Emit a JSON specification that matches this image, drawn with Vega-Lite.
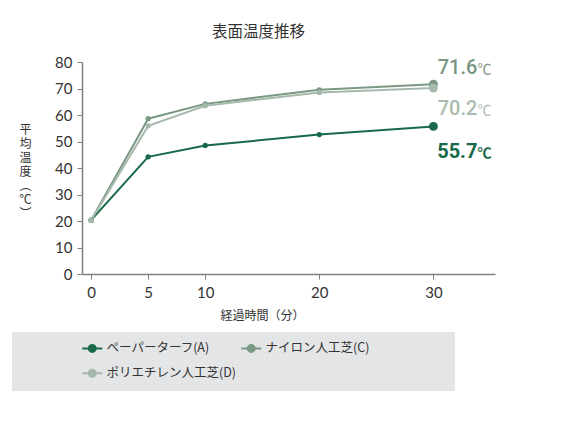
{
  "$schema": "https://vega.github.io/schema/vega-lite/v6.json",
  "width": 413,
  "height": 212,
  "autosize": {"type": "none"},
  "padding": {"left": 82, "top": 62, "right": 85, "bottom": 153},
  "config": {
    "view": {"stroke": null},
    "font": "Noto Sans CJK JP"
  },
  "title": {
    "text": "表面温度推移",
    "font": "Noto Sans CJK JP",
    "fontSize": 15.5,
    "fontWeight": "normal",
    "color": "#333333",
    "anchor": "middle",
    "dx": -30,
    "offset": 15
  },
  "data": {
    "values": [
      {"series": "ペーパーターフ(A)", "time": 0, "temp": 20.3},
      {"series": "ペーパーターフ(A)", "time": 5, "temp": 44.2},
      {"series": "ペーパーターフ(A)", "time": 10, "temp": 48.5},
      {"series": "ペーパーターフ(A)", "time": 20, "temp": 52.6},
      {"series": "ペーパーターフ(A)", "time": 30, "temp": 55.7},
      {"series": "ナイロン人工芝(C)", "time": 0, "temp": 20.3},
      {"series": "ナイロン人工芝(C)", "time": 5, "temp": 58.6},
      {"series": "ナイロン人工芝(C)", "time": 10, "temp": 64.2},
      {"series": "ナイロン人工芝(C)", "time": 20, "temp": 69.5},
      {"series": "ナイロン人工芝(C)", "time": 30, "temp": 71.6},
      {"series": "ポリエチレン人工芝(D)", "time": 0, "temp": 20.3},
      {"series": "ポリエチレン人工芝(D)", "time": 5, "temp": 55.9},
      {"series": "ポリエチレン人工芝(D)", "time": 10, "temp": 63.5},
      {"series": "ポリエチレン人工芝(D)", "time": 20, "temp": 68.5},
      {"series": "ポリエチレン人工芝(D)", "time": 30, "temp": 70.2}
    ]
  },
  "encoding": {
    "x": {
      "field": "time",
      "type": "quantitative",
      "scale": {"domain": [-0.8, 35.4], "nice": false, "zero": false},
      "axis": {
        "values": [0, 5, 10, 20, 30],
        "title": "経過時間（分）",
        "titleFont": "Noto Sans CJK JP",
        "titleFontSize": 12,
        "titleFontWeight": "normal",
        "titleColor": "#333333",
        "titleX": 180,
        "titleY": 41,
        "titleBaseline": "middle",
        "titleAlign": "center",
        "labelFont": "Lato",
        "labelFontSize": 15,
        "labelColor": "#333333",
        "labelPadding": 6,
        "domainColor": "#808080",
        "domainWidth": 1.5,
        "tickColor": "#808080",
        "tickSize": 5,
        "grid": false
      }
    },
    "y": {
      "field": "temp",
      "type": "quantitative",
      "scale": {"domain": [0, 80], "nice": false},
      "axis": {
        "values": [0, 10, 20, 30, 40, 50, 60, 70, 80],
        "title": ["平", "均", "温", "度", "︵", "℃", "︶"],
        "titleAngle": 0,
        "titleFont": "Noto Sans CJK JP",
        "titleFontSize": 12,
        "titleFontWeight": "normal",
        "titleColor": "#333333",
        "titleLineHeight": 14,
        "titleX": -57,
        "titleY": 62,
        "titleBaseline": "top",
        "titleAlign": "center",
        "labelFont": "Lato",
        "labelFontSize": 15,
        "labelColor": "#333333",
        "labelPadding": 5,
        "domainColor": "#808080",
        "domainWidth": 1.5,
        "tickColor": "#808080",
        "tickSize": 5,
        "grid": false
      }
    },
    "color": {
      "field": "series",
      "type": "nominal",
      "scale": {
        "domain": ["ペーパーターフ(A)", "ナイロン人工芝(C)", "ポリエチレン人工芝(D)"],
        "range": ["#17694a", "#7a9884", "#a6b9aa"]
      },
      "legend": {
        "orient": "none",
        "legendX": -70,
        "legendY": 270,
        "direction": "horizontal",
        "columns": 2,
        "title": "\u3000",
        "titleOrient": "left",
        "titleFontSize": 10,
        "titlePadding": 64,
        "fillColor": "#e4e5e6",
        "padding": 10,
        "symbolType": "M-2,0L-0.7,0M0.7,0L2,0M-0.7,0A0.7,0.7,0,1,1,0.7,0A0.7,0.7,0,1,1,-0.7,0Z",
        "symbolSize": 100,
        "symbolStrokeWidth": 2,
        "labelOffset": 8,
        "labelFont": "Noto Sans CJK JP",
        "labelFontSize": 12.5,
        "labelColor": "#333333",
        "labelExpr": "indexof(datum.label, '(C)') >= 0 ? datum.label + '\u3000\u3000\u3000\u3000\u3000\u3000\u200b' : datum.label",
        "labelLimit": 400,
        "columnPadding": 0,
        "rowPadding": 9,
        "encode": {
          "symbols": {
            "update": {
              "fill": {"scale": "color", "field": "value"},
              "stroke": {"scale": "color", "field": "value"},
              "strokeWidth": {"value": 2},
              "opacity": {"value": 1}
            }
          }
        }
      }
    }
  },
  "layer": [
    {
      "mark": {"type": "line", "strokeWidth": 2},
      "encoding": {"detail": {"field": "series", "type": "nominal"}}
    },
    {
      "transform": [{"filter": "datum.time < 30"}],
      "mark": {"type": "point", "filled": true, "size": 28, "opacity": 1}
    },
    {
      "transform": [{"filter": "datum.time == 30"}],
      "mark": {"type": "point", "filled": true, "size": 80, "opacity": 1}
    },
    {
      "transform": [{"filter": "datum.series == 'ナイロン人工芝(C)' && datum.time == 30"}],
      "mark": {"type": "text", "align": "right", "baseline": "alphabetic", "dx": 44, "dy": -10.5, "font": "Roboto", "fontSize": 20, "fontWeight": 500},
      "encoding": {"text": {"field": "temp", "type": "quantitative", "format": ".1f"}, "color": {"value": "#7a9582"}}
    },
    {
      "transform": [{"filter": "datum.series == 'ナイロン人工芝(C)' && datum.time == 30"}],
      "mark": {"type": "text", "align": "left", "baseline": "alphabetic", "dx": 44, "dy": -10.5, "font": "Noto Sans CJK JP", "fontSize": 14},
      "encoding": {"text": {"value": "℃"}, "color": {"value": "#7a9582"}}
    },
    {
      "transform": [{"filter": "datum.series == 'ポリエチレン人工芝(D)' && datum.time == 30"}],
      "mark": {"type": "text", "align": "right", "baseline": "alphabetic", "dx": 44, "dy": 27.5, "font": "Roboto", "fontSize": 20, "fontWeight": 500},
      "encoding": {"text": {"field": "temp", "type": "quantitative", "format": ".1f"}, "color": {"value": "#a9bcad"}}
    },
    {
      "transform": [{"filter": "datum.series == 'ポリエチレン人工芝(D)' && datum.time == 30"}],
      "mark": {"type": "text", "align": "left", "baseline": "alphabetic", "dx": 44, "dy": 27.5, "font": "Noto Sans CJK JP", "fontSize": 14},
      "encoding": {"text": {"value": "℃"}, "color": {"value": "#a9bcad"}}
    },
    {
      "transform": [{"filter": "datum.series == 'ペーパーターフ(A)' && datum.time == 30"}],
      "mark": {"type": "text", "align": "right", "baseline": "alphabetic", "dx": 44, "dy": 31.5, "font": "Roboto", "fontSize": 20, "fontWeight": "bold"},
      "encoding": {"text": {"field": "temp", "type": "quantitative", "format": ".1f"}, "color": {"value": "#17694a"}}
    },
    {
      "transform": [{"filter": "datum.series == 'ペーパーターフ(A)' && datum.time == 30"}],
      "mark": {"type": "text", "align": "left", "baseline": "alphabetic", "dx": 44, "dy": 31.5, "font": "Noto Sans CJK JP", "fontSize": 14, "fontWeight": "bold"},
      "encoding": {"text": {"value": "℃"}, "color": {"value": "#17694a"}}
    }
  ]
}
